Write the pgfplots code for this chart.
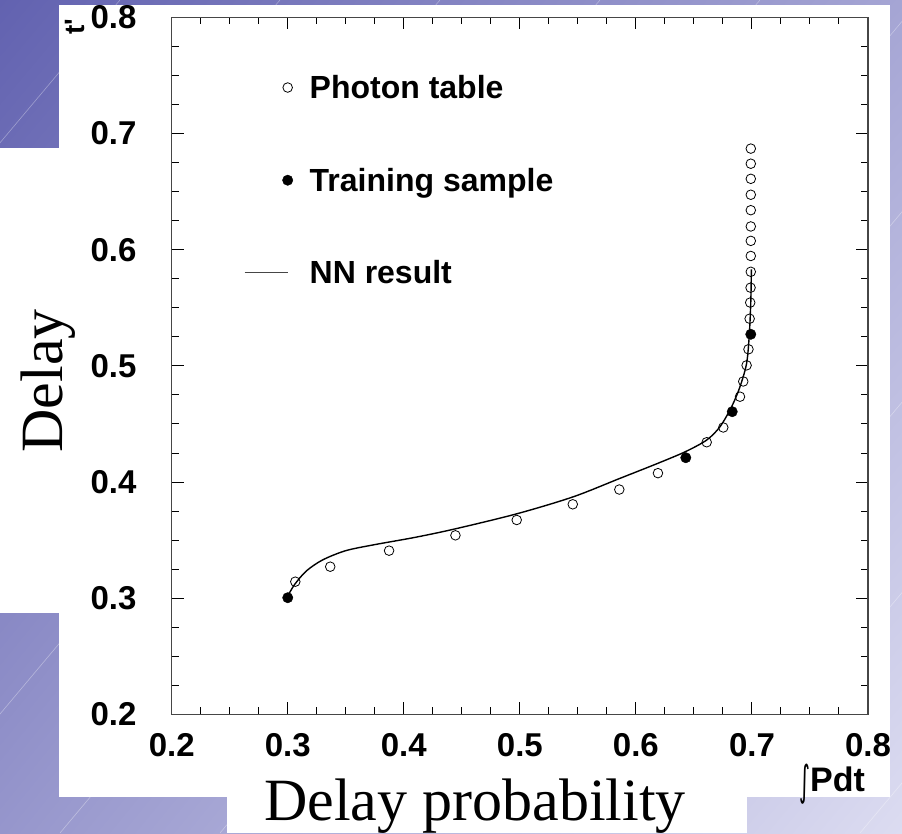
\documentclass[border=0pt]{standalone}
\usepackage{pgfplots}
\pgfplotsset{compat=1.18}
\usepackage{pgfplotstable}
\usetikzlibrary{shadings}
\usepackage{fontspec}
\setmainfont{Liberation Serif}
\newfontfamily\hel{Liberation Sans}
\newfontfamily\dejavu{DejaVu Sans}
\definecolor{bgA}{RGB}{98,98,176}
\definecolor{bgB}{RGB}{165,165,212}
\definecolor{bgC}{RGB}{150,150,204}
\definecolor{bgD}{RGB}{220,220,241}
\definecolor{axgray}{RGB}{70,70,70}

\pgfplotsset{
  markleg/.style={legend image code/.code={\path[draw=none,fill=none] (0pt,0pt) -- (63pt,0pt);\draw[##1] plot coordinates {(43pt,0pt)};}},
  lineleg/.style={legend image code/.code={\path[draw=none,fill=none] (0pt,0pt) -- (63pt,0pt);\draw[##1, line width=1pt, axgray] (0pt,0pt) -- (43pt,0pt);}},
}

\pgfplotstableread{
x y
0.3065 0.3143
0.3366 0.3272
0.3873 0.3410
0.4445 0.3542
0.4973 0.3674
0.5456 0.3809
0.5857 0.3936
0.6190 0.4077
0.6610 0.4343
0.6753 0.4470
0.6897 0.4735
0.6925 0.4866
0.6954 0.5005
0.6970 0.5143
0.6980 0.5406
0.6985 0.5545
0.6988 0.5673
0.6990 0.5810
0.6990 0.5946
0.6990 0.6076
0.6990 0.6200
0.6990 0.6340
0.6990 0.6473
0.6990 0.6610
0.6990 0.6740
0.6990 0.6870
}\photon

\pgfplotstableread{
x y
0.3000 0.3005
0.6430 0.4210
0.6830 0.4606
0.6990 0.5272
}\training

\pgfplotstableread{
x y
0.3000 0.3020
0.3060 0.3120
0.3160 0.3235
0.3300 0.3330
0.3500 0.3410
0.3750 0.3462
0.4100 0.3525
0.4445 0.3598
0.4973 0.3727
0.5456 0.3872
0.5857 0.4030
0.6190 0.4162
0.6427 0.4262
0.6610 0.4362
0.6725 0.4477
0.6825 0.4649
0.6897 0.4821
0.6954 0.5022
0.6977 0.5267
0.6990 0.5550
0.6995 0.5830
}\nn

\begin{document}
\begin{tikzpicture}[x=1pt,y=1pt]
\useasboundingbox (0,0) rectangle (902,833);
\shade[upper left=bgA, upper right=bgB, lower left=bgC, lower right=bgD] (0,0) rectangle (902,833);
\begin{scope}
\clip (0,0) rectangle (902,833);
\foreach \c in {-900,-740,...,900} {
  \draw[white,opacity=0.35,line width=0.6pt] (\c,0) -- (\c+700,833);
}
\end{scope}
\fill[white] (59,36) rectangle (890,828);
\fill[white] (0,220) rectangle (59,685);
\fill[white] (227,0) rectangle (747,36);

\begin{axis}[
  at={(171.7pt,118.5pt)}, anchor=south west,
  scale only axis, width=696.3pt, height=697.2pt,
  xmin=0.2, xmax=0.8, ymin=0.2, ymax=0.8,
  xtick={0.2,0.3,0.4,0.5,0.6,0.7,0.8},
  ytick={0.2,0.3,0.4,0.5,0.6,0.7,0.8},
  minor tick num=3,
  tick align=inside,
  major tick length=12pt, minor tick length=7pt,
  axis line style={axgray, line width=1.5pt},
  every tick/.style={black, line width=1pt},
  tick label style={font=\hel\bfseries\fontsize{33}{38}\selectfont},
  /pgf/number format/assume math mode=true,
  /pgf/number format/fixed,
  /pgf/number format/precision=1,
  xticklabel style={yshift=-15.5pt},
  yticklabel style={xshift=-31.7pt},
  legend cell align=left,
  legend style={draw=none, fill=none, at={(0.0995,0.923)}, anchor=north west,
    font=\hel\bfseries\fontsize{32}{38}\selectfont, row sep=64pt},
]
\addplot[only marks, mark=o, mark size=4.8pt, mark options={black, line width=0.8pt}, markleg]
  table {\photon};
\addlegendentry{Photon table}
\addplot[only marks, mark=*, mark size=5.2pt, mark options={black, fill=black}, markleg]
  table {\training};
\addlegendentry{Training sample}
\addplot[black, line width=1.4pt, smooth, no marks, lineleg]
  table {\nn};
\addlegendentry{NN result}
\end{axis}

\node[rotate=90, anchor=base, font=\fontsize{60}{60}\selectfont] at (62,452) {Delay};
\node[anchor=base, font=\fontsize{60}{60}\selectfont] at (475,13) {Delay probability};
\node[anchor=base east, inner sep=0pt, font=\dejavu\fontsize{26}{26}\selectfont] at (811,38) {\scalebox{0.8}[1.6]{∫}};
\node[anchor=base west, inner sep=0pt, font=\hel\bfseries\fontsize{34}{38}\selectfont] at (810,42) {Pdt};
\node[rotate=90, font=\hel\bfseries\fontsize{28}{32}\selectfont] at (75,806) {t'};
\end{tikzpicture}
\end{document}
